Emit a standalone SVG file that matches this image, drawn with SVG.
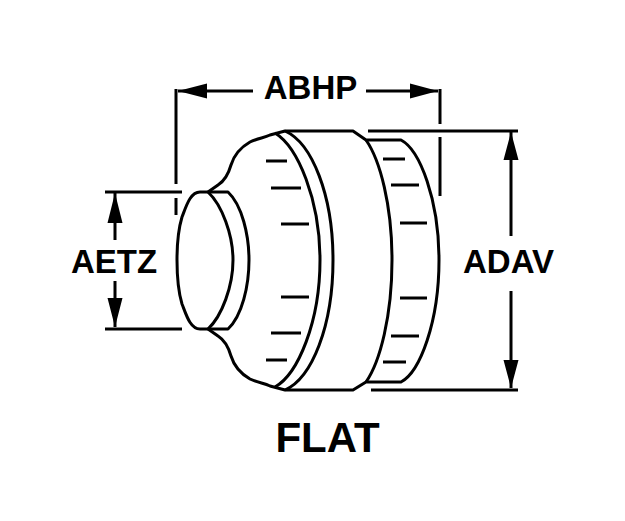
<svg xmlns="http://www.w3.org/2000/svg" width="625" height="521" viewBox="0 0 625 521">
<style>
.l{fill:none;stroke:#000;stroke-width:3;stroke-linejoin:round;stroke-linecap:butt}
.t{font-family:"Liberation Sans",Arial,sans-serif;font-weight:bold;font-size:33px;fill:#000;text-anchor:middle}
.a{fill:#000;stroke:none}
</style>
<rect width="625" height="521" fill="#fff"/>
<g id="part">
<path class="l" d="M208 192H200C190 192 186 207 182 217C179 227 177 243 177 260C177 278 179 294 182 304C186 314 190 329 200 329H208"/>
<path class="l" d="M208 192C222 205 233 235 233 260C233 286 222 316 208 329"/>
<path class="l" d="M208 192H228C242 205 249 235 249 260C249 286 242 316 228 329H208"/>
<path class="l" d="M208 192L218 185C226 180 229 172 231 165C235 152 243 146 250 142C258 138 264 138 270 135L285 131H353L366 140H401C420 150 439 200 439 260C439 322 420 372 401 382H366L353 390H285L270 386C264 383 258 383 250 379C243 375 235 369 231 356C229 349 226 341 218 336L208 329"/>
<path class="l" d="M275 133C298 147 320 200 320 260C320 322 298 374 275 387"/>
<path class="l" d="M285 131C312 143 333 195 333 260C333 326 312 378 285 390"/>
<path class="l" d="M366 140C380 160 392 205 392 260C392 316 380 362 366 382"/>
</g>
<g id="ticks">
<path class="l" d="M266 161H287M271 188H301M281 224H309M281 297H309M271 333H301M266 360H287M383 159H405M391 185H419M400 223H427M400 298H427M391 336H419M383 362H406"/>
</g>
<g id="connectors">
<path class="l" d="M176 89V184M176 198V215M440 89V124M440 137V196M105 192H182M105 329H182M368 131H518M371 390H518"/>
<path class="l" d="M178 91H253M366 91H438M115 193V240M115 281V327M511 132V236M511 291V388"/>
<path class="a" d="M178 91L207 83.500V98.500ZM438 91L410 83.500V98.500ZM115 193L107.500 223H122.500ZM115 327L107.500 298H122.500ZM511 132L503.500 160H518.500ZM511 388L503.500 360H518.500Z"/>
</g>
<g id="labels">
<text class="t" x="310.500" y="99">ABHP</text>
<text class="t" x="114" y="273">AETZ</text>
<text class="t" x="508.500" y="273">ADAV</text>
<text class="t" x="327.500" y="452" style="font-size:42px">FLAT</text>
</g>
</svg>
